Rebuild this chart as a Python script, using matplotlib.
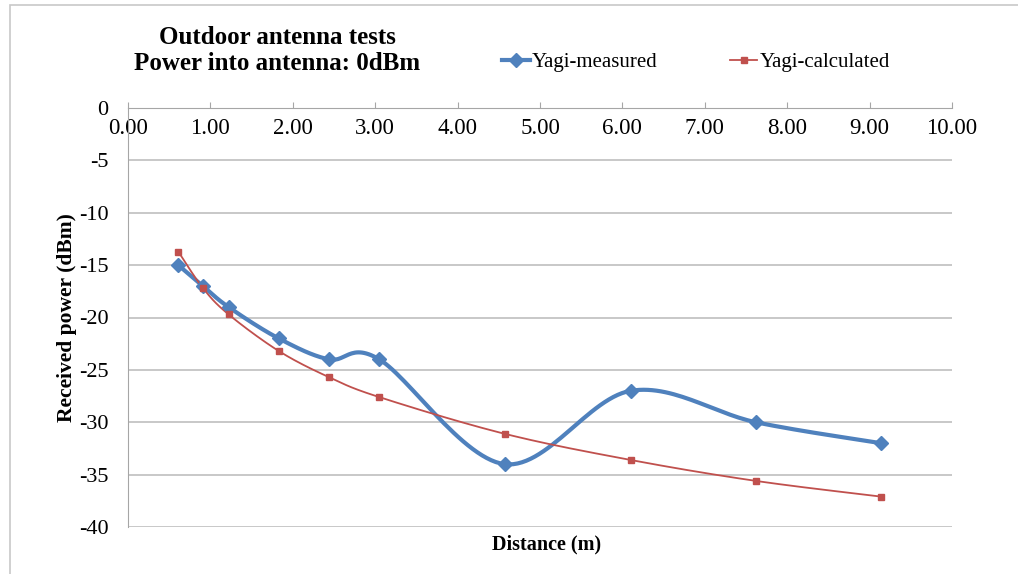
import numpy as np
import matplotlib.pyplot as plt
from matplotlib.patches import Rectangle

# Datos (distancia en metros, potencia en dBm)
distance = [0.61, 0.91, 1.22, 1.83, 2.44, 3.05, 4.57, 6.10, 7.62, 9.14]
measured = [-15, -17, -19, -22, -24, -24, -34, -27, -30, -32]
calculated = [-13.7, -17.2, -19.7, -23.2, -25.7, -27.6, -31.1, -33.6, -35.6, -37.1]
x_ticks = [0, 1, 2, 3, 4, 5, 6, 7, 8, 9, 10]
y_ticks = [0, -5, -10, -15, -20, -25, -30, -35, -40]

plt.rcParams['font.family'] = ['Liberation Serif', 'DejaVu Serif']

BLUE = '#4F81BD'
RED = '#C0504D'


def smooth(xs, ys, sx=82.4, sy=10.48, n=30):
    # curva suavizada tipo Excel (Bezier con tangentes de Catmull-Rom) en espacio de pantalla
    p = np.column_stack([np.asarray(xs) * sx, np.asarray(ys) * sy])
    out = []
    for i in range(len(p) - 1):
        p0 = p[i - 1] if i > 0 else p[i]
        p3 = p[i + 2] if i + 2 < len(p) else p[i + 1]
        c1 = p[i] + (p[i + 1] - p0) / 6
        c2 = p[i + 1] - (p3 - p[i]) / 6
        t = np.linspace(0, 1, n)[:, None]
        seg = ((1 - t) ** 3 * p[i] + 3 * (1 - t) ** 2 * t * c1
               + 3 * (1 - t) * t ** 2 * c2 + t ** 3 * p[i + 1])
        out.append(seg if i == 0 else seg[1:])
    out = np.vstack(out)
    return out[:, 0] / sx, out[:, 1] / sy


fig = plt.figure(figsize=(10.18, 5.74), dpi=100)
fig.patches.append(Rectangle((10 / 1018, -0.01), 1.0, 1.01 - 5 / 574,
                             transform=fig.transFigure, fill=False,
                             edgecolor='#C8C8C8', lw=1.2))
ax = fig.add_axes([128 / 1018, 1 - 527 / 574, 824 / 1018, 419 / 574])

sx, sy = smooth(distance, measured)
ax.plot(sx, sy, color=BLUE, lw=3, zorder=3)
ax.plot(distance, measured, 'D', color=BLUE, markersize=7, zorder=4)
cx, cy = smooth(distance, calculated)
ax.plot(cx, cy, color=RED, lw=1.3, zorder=3)
ax.plot(distance, calculated, 's', color=RED, markersize=4.5, zorder=4)

ax.set_xlim(0, 10)
ax.set_ylim(-40, 0)
ax.set_xticks(x_ticks)
ax.set_xticklabels(['%.2f' % v for v in x_ticks])
ax.set_yticks(y_ticks)
ax.set_yticklabels([str(v) for v in y_ticks])
ax.grid(axis='y', color='#BFBFBF', lw=1.2)
ax.set_axisbelow(True)

for s in ['top', 'right']:
    ax.spines[s].set_visible(False)
ax.spines['bottom'].set_position(('data', 0))
ax.spines['bottom'].set_color('#A6A6A6')
ax.spines['left'].set_color('#A6A6A6')
ax.tick_params(axis='x', direction='in', length=4, color='#A6A6A6',
               labelsize=16.5, pad=7)
ax.tick_params(axis='y', length=0, labelsize=16, pad=14)

ax.set_ylabel('Received power (dBm)', fontsize=15.5, fontweight='bold')
ax.yaxis.set_label_coords(-0.062, 0.5)
fig.text(547 / 1018, 1 - 544 / 574, 'Distance (m)', fontsize=14.5,
         fontweight='bold', ha='center', va='center')

fig.text(277 / 1018, 1 - 37 / 574, 'Outdoor antenna tests', fontsize=18,
         fontweight='bold', ha='center', va='center')
fig.text(277 / 1018, 1 - 63 / 574, 'Power into antenna: 0dBm', fontsize=18,
         fontweight='bold', ha='center', va='center')

h1, = ax.plot([], [], color=BLUE, lw=3, marker='D', markersize=7)
h2, = ax.plot([], [], color=RED, lw=1.3, marker='s', markersize=4.5)
fig.legend([h1, h2], ['Yagi-measured', 'Yagi-calculated'], loc='center left',
           bbox_to_anchor=(492 / 1018, 1 - 62 / 574), ncol=2, frameon=False,
           fontsize=15, handlelength=1.3, handletextpad=0.1, columnspacing=3.5,
           borderpad=0)

fig.savefig('out.png', dpi=100)
